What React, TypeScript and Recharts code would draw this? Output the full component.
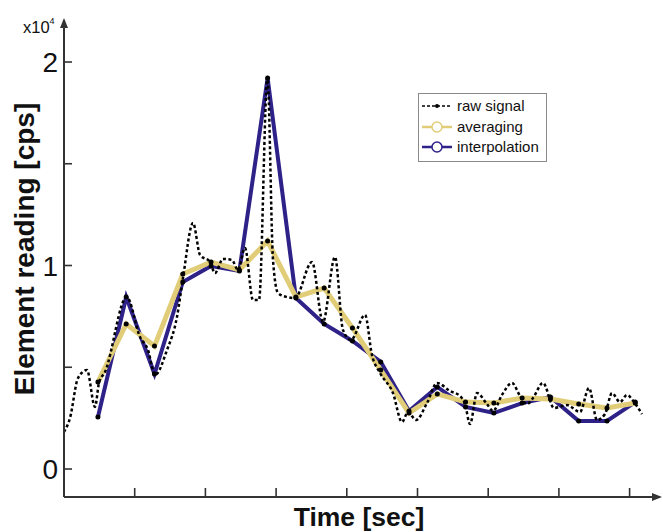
import React from 'react';
import { LineChart, Line, XAxis, YAxis, ReferenceDot, Customized } from 'recharts';

// ---- data ----
const sampleTimes = [0.48, 0.88, 1.28, 1.68, 2.08, 2.48, 2.88, 3.28, 3.68, 4.08, 4.48, 4.88, 5.28, 5.68, 6.08, 6.48, 6.88, 7.28, 7.68, 8.08];
const interpolationValues = [2555, 8450, 4670, 9190, 9980, 9730, 19210, 8400, 7130, 6290, 5260, 2850, 4030, 3050, 2750, 3240, 3540, 2360, 2360, 3290];
const averagingValues = [4275, 7125, 6040, 9580, 10170, 9780, 11200, 8450, 8890, 6930, 4860, 2750, 3690, 3290, 3240, 3490, 3440, 3190, 3000, 3240];

const rawTimes = [
  0, 0.085, 0.198, 0.325, 0.438, 0.495, 0.58, 0.887, 1.075, 1.188, 1.287, 1.457, 1.598, 1.683, 1.825, 1.924, 2.065,
  2.136, 2.249, 2.376, 2.461, 2.56, 2.673, 2.758, 2.878, 2.956, 3.027, 3.154, 3.267, 3.508, 3.663, 3.833, 3.946,
  4.059, 4.258, 4.356, 4.47, 4.653, 4.781, 4.866, 4.979, 5.134, 5.276, 5.46, 5.601, 5.672, 5.743, 5.842, 5.983,
  6.068, 6.195, 6.337, 6.45, 6.549, 6.634, 6.775, 6.931, 7.115, 7.298, 7.426, 7.539, 7.652, 7.751, 7.864, 7.963,
  8.062, 8.175,
];
const rawValues = [
  1820, 2510, 4470, 4860, 3050, 4230, 4770, 8450, 6490, 5850, 4620, 5850, 7470, 9390, 12090, 10520, 10170,
  9630, 10320, 10270, 9780, 10860, 8300, 8300, 19260, 10270, 8650, 8450, 8400, 10170, 7220, 10420, 6830,
  6340, 7570, 5600, 4720, 3730, 2310, 2800, 2410, 3240, 4230, 3830, 3590, 3190, 2210, 3730, 3190,
  2850, 3640, 4230, 3590, 3190, 3490, 4230, 3000, 3140, 2800, 3980, 2410, 2700, 3730, 3290, 3640,
  3290, 2700,
];

const yTicks = [0, 5000, 10000, 15000, 20000];
const xTicks = [1, 2, 3, 4, 5, 6, 7, 8];
const xDomain = [0, 8.43];
const yDomain = [-1376, 22064];
const seriesNames = ['raw signal', 'averaging', 'interpolation'];

// ---- style ----
const FONT = '"Liberation Sans", Arial, Helvetica, sans-serif';
const AXIS = '#333333';
const BLUE = '#2e2188';
const GOLD = '#e1cd78';

const interpData = sampleTimes.map((t, i) => ({ t, v: interpolationValues[i] }));
const avgData = sampleTimes.map((t, i) => ({ t, v: averagingValues[i] }));
const rawData = rawTimes.map((t, i) => ({ t, v: rawValues[i] }));

const Y_TICK_MARGIN = 6;

const YTick = (props: any) => {
  const { x, y, payload } = props;
  const axisX = x + Y_TICK_MARGIN;
  const v = payload.value as number;
  return (
    <g>
      <line x1={axisX} y1={y} x2={axisX + 8} y2={y} stroke={AXIS} strokeWidth={1.6} />
      {v % 10000 === 0 && (
        <text x={x} y={y} dy={10} textAnchor="end" fontSize={28} fill="#111" fontFamily={FONT}>
          {String(v / 10000)}
        </text>
      )}
    </g>
  );
};

const XTick = (props: any) => {
  const { x, y } = props;
  return <line x1={x} y1={y} x2={x} y2={y - 9} stroke={AXIS} strokeWidth={1.6} />;
};

const Decorations = () => (
  <g fontFamily={FONT}>
    {/* exponent label */}
    <text x={23} y={33} fontSize={16.5} fill="#111">
      x10<tspan dy={-9} fontSize={9}>4</tspan>
    </text>
    {/* axis titles */}
    <text transform="translate(34,249) rotate(-90)" textAnchor="middle" fontSize={28} fontWeight="bold" fill="#111">
      Element reading [cps]
    </text>
    <text x={359} y={526} textAnchor="middle" fontSize={26.5} fontWeight="bold" fill="#111">
      Time [sec]
    </text>
    {/* legend */}
    <rect x={418.5} y={93.5} width={128} height={68} fill="#fff" stroke="#8a8a8a" strokeWidth={1} />
    <line x1={422} y1={106} x2={452} y2={106} stroke="#000" strokeWidth={1.5} strokeDasharray="3 2" />
    <circle cx={437} cy={106} r={2} fill="#000" />
    <text x={457} y={111} fontSize={15} fill="#111">{seriesNames[0]}</text>
    <line x1={422} y1={127} x2={452} y2={127} stroke={GOLD} strokeWidth={2.5} />
    <circle cx={437} cy={127} r={5} fill="#fff" stroke={GOLD} strokeWidth={1.5} />
    <text x={457} y={132} fontSize={15} fill="#111">{seriesNames[1]}</text>
    <line x1={422} y1={147} x2={452} y2={147} stroke={BLUE} strokeWidth={2.5} />
    <circle cx={437} cy={147} r={5} fill="#fff" stroke={BLUE} strokeWidth={1.5} />
    <text x={457} y={152} fontSize={15} fill="#111">{seriesNames[2]}</text>
  </g>
);

export default function App() {
  return (
    <div style={{ position: 'absolute', left: 0, top: 0, width: 663, height: 532, background: '#fff' }}>
      <LineChart width={663} height={532} margin={{ top: 20, right: 3, left: 0, bottom: 0 }}>
        <XAxis
          type="number"
          dataKey="t"
          domain={xDomain}
          ticks={xTicks}
          allowDataOverflow
          tick={<XTick />}
          tickSize={0}
          tickMargin={0}
          tickLine={false}
          height={35}
          axisLine={{ stroke: AXIS, strokeWidth: 2 }}
        />
        <YAxis
          type="number"
          dataKey="v"
          domain={yDomain}
          ticks={yTicks}
          interval={0}
          allowDataOverflow
          width={64}
          tickSize={0}
          tickMargin={Y_TICK_MARGIN}
          tickLine={false}
          tick={<YTick />}
          axisLine={{ stroke: AXIS, strokeWidth: 2 }}
        />
        <Line
          data={interpData}
          dataKey="v"
          type="linear"
          stroke={BLUE}
          strokeWidth={4}
          dot={{ r: 2.5, fill: '#000', stroke: 'none' }}
          isAnimationActive={false}
          name={seriesNames[2]}
        />
        <Line
          data={avgData}
          dataKey="v"
          type="linear"
          stroke={GOLD}
          strokeWidth={5}
          dot={{ r: 2.5, fill: '#000', stroke: 'none' }}
          isAnimationActive={false}
          name={seriesNames[1]}
        />
        <Line
          data={rawData}
          dataKey="v"
          type="monotone"
          stroke="#000"
          strokeWidth={2.5}
          strokeDasharray="3 2.5"
          dot={false}
          isAnimationActive={false}
          name={seriesNames[0]}
        />
        <ReferenceDot
          x={xDomain[1]}
          y={yDomain[0]}
          ifOverflow="visible"
          shape={(p: any) => (
            <polygon
              points={`${p.cx + 2},${p.cy} ${p.cx - 8},${p.cy - 4} ${p.cx - 8},${p.cy + 4}`}
              fill={AXIS}
            />
          )}
        />
        <ReferenceDot
          x={xDomain[0]}
          y={yDomain[1]}
          ifOverflow="visible"
          shape={(p: any) => (
            <polygon
              points={`${p.cx},${p.cy - 2} ${p.cx - 4},${p.cy + 8} ${p.cx + 4},${p.cy + 8}`}
              fill={AXIS}
            />
          )}
        />
        <Customized component={<Decorations />} />
      </LineChart>
    </div>
  );
}
